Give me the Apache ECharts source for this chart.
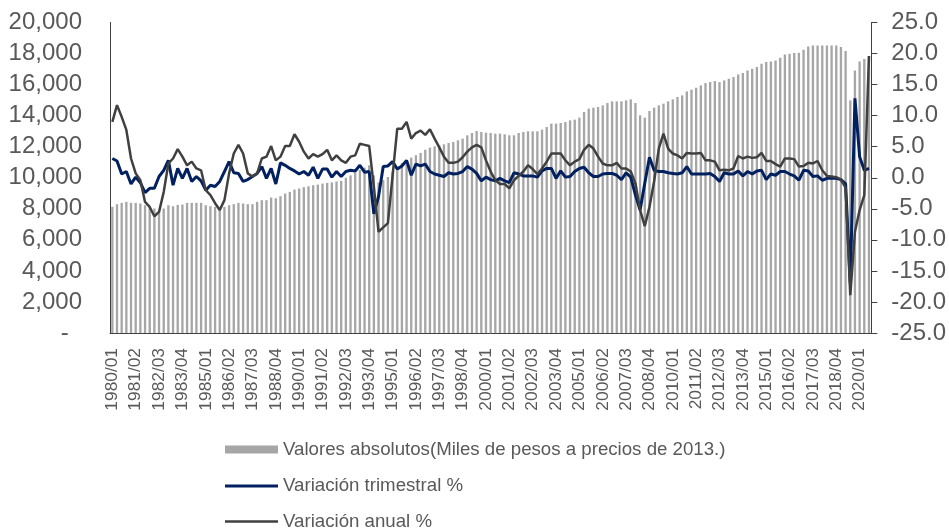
<!DOCTYPE html>
<html>
<head>
<meta charset="utf-8">
<title>PIB trimestral</title>
<script src="https://cdn.jsdelivr.net/npm/echarts@6/dist/echarts.min.js"></script>
<style>
  html, body { margin: 0; padding: 0; background: #fff; }
  #chart { width: 949px; height: 532px; }
</style>
</head>
<body>
<div id="chart"></div>
<script>
// etiquetas trimestrales desde 1980/01
var startYear = 1980;
var totalQuarters = 163;
var categories = [];
for (var k = 0; k < totalQuarters; k++) {
    categories.push((startYear + Math.floor(k / 4)) + '/0' + (k % 4 + 1));
}

// Valores absolutos (miles de pesos a precios de 2013)
var valores = [
    8125, 8297, 8383, 8447, 8383, 8383, 8340, 8232, 8125, 8018,
    7868, 8018, 8232, 8168, 8254, 8275, 8383, 8383, 8383, 8383,
    8232, 8168, 8125, 8018, 8125, 8232, 8297, 8383, 8340, 8297,
    8297, 8447, 8554, 8554, 8726, 8683, 8811, 8983, 9090, 9240,
    9305, 9390, 9453, 9518, 9560, 9625, 9668, 9700, 9760, 9800,
    10000, 10150, 10350, 10500, 10650, 10800, 10150, 9700, 9850, 10050,
    10400, 10700, 10950, 11150, 11300, 11450, 11600, 11800, 11940, 12026,
    12090, 12155, 12241, 12305, 12412, 12519, 12733, 12884, 13012, 12948,
    12900, 12884, 12841, 12841, 12798, 12733, 12733, 12884, 12948, 12991,
    12991, 12991, 13098, 13269, 13484, 13484, 13527, 13591, 13698, 13741,
    13870, 14234, 14448, 14513, 14555, 14663, 14813, 14920, 14920, 14920,
    14984, 15048, 14813, 14020, 13870, 14298, 14513, 14663, 14770, 14920,
    15048, 15199, 15306, 15563, 15671, 15799, 15949, 16097, 16162, 16227,
    16162, 16270, 16378, 16485, 16656, 16742, 16913, 17020, 17128, 17342,
    17449, 17492, 17556, 17728, 17942, 17985, 18028, 18050, 18243, 18457,
    18521, 18521, 18521, 18521, 18521, 18521, 18414, 18157, 14984, 16913,
    17480, 17650, 17850
];

// Variación trimestral %
var trimestral = [
    3.1, 2.7, 0.6, 1.0, -1.0, 0.1, -0.8, -2.4, -1.7, -1.7,
    0.2, 1.2, 2.8, -1.2, 1.5, -0.1, 1.5, -0.6, 0.2, -0.5,
    -2.0, -1.2, -1.4, -0.6, 1.0, 2.6, 0.8, 0.7, -0.6, -0.3,
    0.2, 0.7, 1.8, -0.1, 1.5, -1.0, 2.4, 2.0, 1.5, 1.1,
    0.6, 1.0, 0.4, 1.7, -0.1, 1.4, 1.4, 0.1, 1.0, 0.2,
    1.0, 1.2, 1.1, 2.0, 0.9, 1.0, -5.8, -3.0, 1.8, 1.9,
    2.6, 1.4, 1.9, 2.8, 0.4, 2.2, 1.9, 2.2, 1.0, 0.6,
    0.4, 0.2, 0.8, 0.6, 0.7, 1.0, 1.8, 1.4, 0.7, -0.5,
    0.1, -0.3, -0.5, -0.1, -0.5, -0.8, 0.8, 0.6, 0.3, 0.3,
    0.3, 0.1, 1.1, 1.5, 1.5, -0.1, 1.1, 0.1, 0.2, 1.0,
    1.5, 1.7, 0.8, 0.2, 0.2, 0.6, 0.7, 0.7, 0.4, -0.3,
    0.8, 0.1, -2.8, -5.2, -0.9, 3.3, 1.2, 1.0, 1.0, 0.8,
    0.7, 0.6, 0.8, 1.8, 0.6, 0.6, 0.6, 0.6, 0.7, 0.2,
    -0.6, 0.8, 0.6, 0.6, 1.1, 0.3, 1.0, 0.6, 1.1, 1.2,
    -0.3, 0.6, 0.4, 1.0, 1.0, 0.6, 0.3, -0.4, 1.2, 1.1,
    0.2, 0.3, -0.4, -0.1, -0.1, -0.1, -0.3, -1.0, -17.0, 12.8,
    3.4, 1.2, 1.5
];

// Variación anual %
var anual = [
    9.0, 11.7, 9.8, 7.7, 3.1, 0.7, -0.4, -3.9, -4.7, -6.2,
    -5.5, -2.3, 2.3, 3.1, 4.6, 3.4, 2.0, 2.6, 1.5, 1.2,
    -2.0, -2.8, -4.1, -5.2, -3.6, 0.7, 3.9, 5.3, 3.9, 0.7,
    0.2, 0.7, 3.1, 3.4, 5.1, 2.8, 3.4, 5.1, 5.1, 7.0,
    5.8, 4.2, 3.1, 3.8, 3.4, 3.8, 4.5, 2.8, 3.6, 2.8,
    2.4, 3.4, 3.6, 5.5, 5.3, 5.1, -1.5, -8.7, -8.0, -7.3,
    0.3, 7.9, 7.9, 9.0, 6.3, 7.2, 7.6, 6.9, 7.8, 6.3,
    4.9, 3.4, 2.4, 2.4, 2.6, 3.3, 4.2, 4.9, 5.3, 4.9,
    2.8, 1.0, -0.4, -1.0, -1.0, -1.7, -0.4, 0.3, 1.0, 2.0,
    1.4, 0.6, 1.5, 2.6, 3.9, 3.9, 3.9, 2.8, 2.0, 2.6,
    3.0, 4.5, 5.3, 4.7, 3.4, 2.3, 2.0, 2.0, 2.4, 1.5,
    1.5, 1.0, -0.9, -5.2, -7.8, -4.7, -0.6, 4.7, 7.1, 4.7,
    3.9, 3.6, 3.1, 4.0, 3.9, 3.9, 4.0, 2.8, 2.8, 2.6,
    1.2, 1.3, 1.2, 1.5, 3.5, 3.1, 3.4, 3.2, 3.3, 4.0,
    2.7, 2.7, 2.2, 1.8, 3.1, 3.1, 3.0, 1.8, 1.9, 2.4,
    2.3, 2.7, 1.2, 0.3, 0.2, 0.1, -0.3, -1.6, -18.9, -8.7,
    -5.2, -2.8, 19.6
];

var nombres = [
    'Valores absolutos(Miles de pesos a precios de 2013.)',
    'Variación trimestral %',
    'Variación anual %'
];

var fuente = 'Liberation Sans, Arial, sans-serif';
var gris = '#595959';
var lineaEje = '#404040';

// una leyenda por serie, para colocarlas una debajo de otra
function leyenda(nombre, top, alto) {
    return {
        data: [{ name: nombre, icon: 'rect' }],
        left: 225,
        top: top,
        itemWidth: 53,
        itemHeight: alto,
        itemGap: 0,
        selectedMode: false,
        textStyle: { fontFamily: fuente, fontSize: 18.67, color: gris },
        padding: 0
    };
}

var myChart = echarts.init(document.getElementById('chart'));

var option = {
    animation: false,
    backgroundColor: '#fff',
    grid: { left: 110, right: 77.5, top: 22.5, bottom: 199 },
    legend: [
        leyenda(nombres[0], 440, 8),
        leyenda(nombres[1], 476.5, 3),
        leyenda(nombres[2], 512, 2.5)
    ],
    xAxis: {
        type: 'category',
        data: categories,
        boundaryGap: true,
        axisLine: { lineStyle: { color: lineaEje, width: 1 } },
        axisTick: { show: false },
        axisLabel: {
            interval: 4,
            rotate: 90,
            margin: 15,
            fontFamily: fuente,
            fontSize: 17.33,
            color: gris
        },
        splitLine: { show: false }
    },
    yAxis: [
        {
            type: 'value',
            min: 0,
            max: 20000,
            interval: 2000,
            axisLine: { show: true, lineStyle: { color: lineaEje, width: 1 } },
            axisTick: { show: false },
            splitLine: { show: false },
            axisLabel: {
                margin: 28,
                fontFamily: fuente,
                fontSize: 24,
                color: gris,
                formatter: function (v) {
                    if (v === 0) return '-  ';
                    return String(v).replace(/\B(?=(\d{3})+(?!\d))/g, ',');
                }
            }
        },
        {
            type: 'value',
            min: -25,
            max: 25,
            interval: 5,
            position: 'right',
            axisLine: { show: true, lineStyle: { color: lineaEje, width: 1 } },
            axisTick: { show: true, length: 6, lineStyle: { color: lineaEje } },
            splitLine: { show: false },
            axisLabel: {
                margin: 20,
                fontFamily: fuente,
                fontSize: 24,
                color: gris,
                formatter: function (v) { return v.toFixed(1); }
            }
        }
    ],
    series: [
        {
            name: nombres[0],
            type: 'bar',
            yAxisIndex: 0,
            data: valores,
            barWidth: '50%',
            itemStyle: { color: '#A6A6A6' }
        },
        {
            name: nombres[1],
            type: 'line',
            yAxisIndex: 1,
            data: trimestral,
            symbol: 'none',
            lineStyle: { color: '#002060', width: 3 },
            itemStyle: { color: '#002060' }
        },
        {
            name: nombres[2],
            type: 'line',
            yAxisIndex: 1,
            data: anual,
            symbol: 'none',
            lineStyle: { color: '#404040', width: 2.5 },
            itemStyle: { color: '#404040' }
        }
    ]
};

myChart.setOption(option);
</script>
</body>
</html>
